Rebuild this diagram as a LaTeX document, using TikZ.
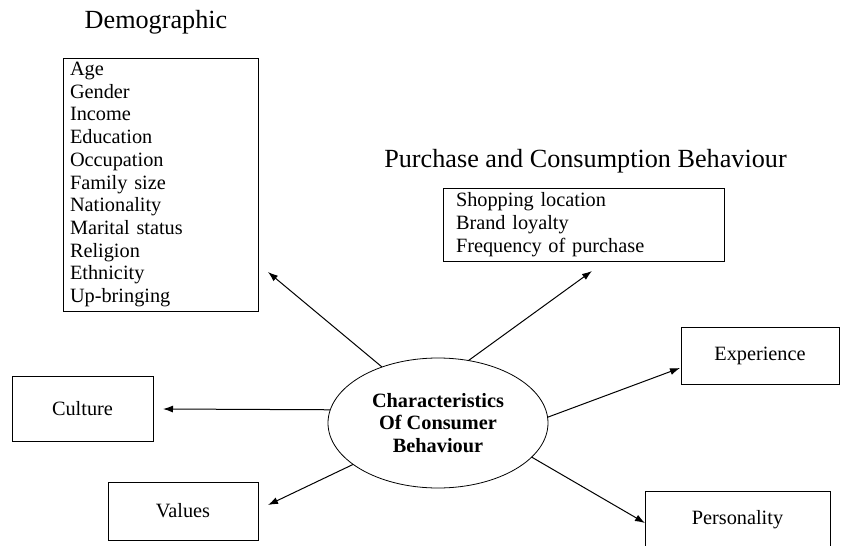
\documentclass[tikz,border=0pt]{standalone}
\usepackage{fontspec}
\setmainfont{Liberation Serif}
\usetikzlibrary{shapes.geometric,arrows.meta}

\begin{document}
\begin{tikzpicture}[x=1pt,y=-1pt,
  every node/.style={font=\fontsize{20.3}{22.7}\selectfont},
  box/.style={draw,line width=1pt,inner sep=0pt,outer sep=0pt,anchor=north west},
  heading/.style={font=\fontsize{26.2}{30}\selectfont,anchor=base},
  arr/.style={-{Latex[length=10pt,width=7pt]},line width=1pt}]
\useasboundingbox (0,0) rectangle (852,546);
\clip (0,0) rectangle (852,546);
% headings
\node[heading] (demoHead) at (156,28) {Demographic};
\node[heading] (purchHead) at (585.5,167) {Purchase and Consumption Behaviour};
% list boxes
\node[box,minimum width=195pt,minimum height=253pt,text width=181pt,inner xsep=7pt,align=left] (demo) at (63,58)
  {Age\\Gender\\Income\\Education\\Occupation\\Family size\\Nationality\\Marital status\\Religion\\Ethnicity\\Up-bringing};
\node[box,minimum width=281pt,minimum height=73pt,text width=255pt,inner xsep=13pt,align=left] (purch) at (443,188)
  {Shopping location\\Brand loyalty\\Frequency of purchase};
% single boxes
\node[box,minimum width=141pt,minimum height=65pt] (cult) at (12,376) {Culture};
\node[box,minimum width=150pt,minimum height=58pt] (val) at (108,482) {Values};
\node[box,minimum width=158pt,minimum height=57pt] (exp) at (681,327) {Experience};
\node[box,minimum width=185pt,minimum height=58pt] (pers) at (645,491) {Personality};
% centre
\node[ellipse,draw,line width=0.8pt,minimum width=220pt,minimum height=130pt,inner sep=0pt,outer sep=0pt,
  align=center,font=\bfseries\fontsize{20.3}{22.7}\selectfont] (core) at (438,423)
  {Characteristics\\Of Consumer\\Behaviour};
% arrow ends
\coordinate (demoTip) at (268,272);
\coordinate (purchTip) at (592,271);
\coordinate (cultTip) at (163,409);
\coordinate (valTip) at (268,505);
\coordinate (expTip) at (680,368);
\coordinate (persTip) at (645,523);
\draw[arr] (core.135) -- (demoTip);
\draw[arr] (core.64) -- (purchTip);
\draw[arr] (core.173) -- (cultTip);
\draw[arr] (core.206) -- (valTip);
\draw[arr] (core.3) -- (expTip);
\draw[arr] (core.-20) -- (persTip);
\end{tikzpicture}
\end{document}
